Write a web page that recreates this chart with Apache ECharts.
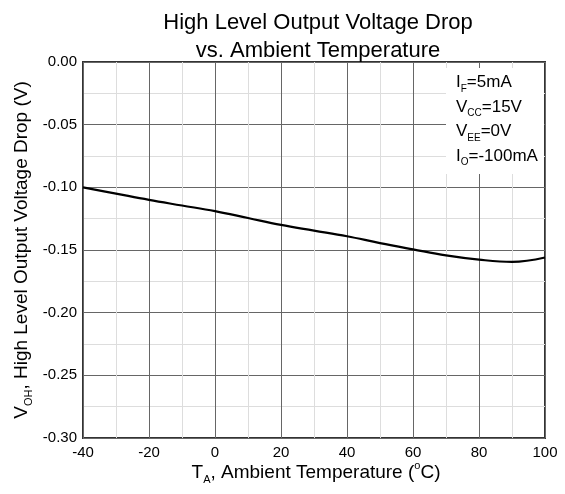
<!DOCTYPE html>
<html>
<head>
<meta charset="utf-8">
<script src="https://cdn.jsdelivr.net/npm/echarts@6/dist/echarts.min.js"></script>
<style>
html,body{margin:0;padding:0;background:#fff;}
#c{width:565px;height:494px;}
</style>
</head>
<body>
<div id="c"></div>
<script>
const temps = [-40, -30, -20, -10, 0, 10, 20, 30, 40, 50, 60, 70, 80, 90, 100];
const voh = [-0.100, -0.105, -0.110, -0.1145, -0.119, -0.1245, -0.130, -0.1345, -0.139, -0.1445, -0.1495, -0.1543, -0.1577, -0.1595, -0.156];
const xTicks = [-40, -20, 0, 20, 40, 60, 80, 100];
const yTicks = [0, -0.05, -0.10, -0.15, -0.20, -0.25, -0.30];
const titleLines = ['High Level Output Voltage Drop', 'vs. Ambient Temperature'];
const condLines = [['I', 'F', '=5mA'], ['V', 'CC', '=15V'], ['V', 'EE', '=0V'], ['I', 'O', '=-100mA']];

const FONT = 'Liberation Sans, Arial, sans-serif';
const chart = echarts.init(document.getElementById('c'));

function rich(main, sub) {
  return {
    m: {fontSize: main, fontFamily: FONT, color: '#000', lineHeight: main + 6, verticalAlign: 'middle'},
    s: {fontSize: sub, fontFamily: FONT, color: '#000', lineHeight: sub, verticalAlign: 'bottom'},
    p: {fontSize: sub, fontFamily: FONT, color: '#000', lineHeight: sub, verticalAlign: 'top'}
  };
}

const graphics = [{
  type: 'rect', z: 50, shape: {x: 446, y: 68, width: 98, height: 106},
  style: {fill: '#fff'}
}];
condLines.forEach((l, i) => graphics.push({
  type: 'text', z: 51, left: 456, top: 74 + i * 24.5,
  style: {text: '{m|' + l[0] + '}{s|' + l[1] + '}{m|' + l[2] + '}', rich: rich(17, 10)}
}));
graphics.push({
  type: 'text', x: 316, y: 473,
  style: {text: '{m|T}{s|A}{m|, Ambient Temperature (}{p|o}{m|C)}', rich: rich(19, 11), align: 'center', verticalAlign: 'middle'}
});
graphics.push({
  type: 'text', x: 22, y: 250, rotation: Math.PI / 2,
  style: {text: '{m|V}{s|OH}{m|, High Level Output Voltage Drop (V)}', rich: rich(19, 11), align: 'center', verticalAlign: 'middle'}
});

chart.setOption({
  animation: false,
  backgroundColor: '#fff',
  title: {
    text: titleLines.join('\n'), left: 313, top: 4, textAlign: 'center',
    textStyle: {fontSize: 22, fontWeight: 'normal', color: '#000', fontFamily: FONT, lineHeight: 28}
  },
  grid: {left: 83, top: 62, right: 20, bottom: 56, show: true, borderColor: '#333', borderWidth: 2, containLabel: false},
  xAxis: {
    type: 'value', min: -40, max: 100, interval: 20,
    axisLine: {show: false}, axisTick: {show: false},
    axisLabel: {color: '#000', fontSize: 15, fontFamily: FONT, margin: 7,
      formatter: v => xTicks.includes(v) ? String(v) : ''},
    splitLine: {show: true, lineStyle: {color: '#666', width: 1}},
    minorTick: {show: false, splitNumber: 2},
    minorSplitLine: {show: true, lineStyle: {color: '#ddd', width: 1}}
  },
  yAxis: {
    type: 'value', min: -0.3, max: 0, interval: 0.05,
    axisLine: {show: false}, axisTick: {show: false},
    axisLabel: {color: '#000', fontSize: 15, fontFamily: FONT, margin: 6,
      formatter: v => (Math.abs(v) < 1e-9 ? 0 : v).toFixed(2)},
    splitLine: {show: true, lineStyle: {color: '#666', width: 1}},
    minorTick: {show: false, splitNumber: 2},
    minorSplitLine: {show: true, lineStyle: {color: '#ddd', width: 1}}
  },
  series: [{
    type: 'line', data: temps.map((t, i) => [t, voh[i]]), smooth: 0.4, showSymbol: false,
    lineStyle: {color: '#000', width: 2.2}
  }],
  graphic: graphics
});
</script>
</body>
</html>
